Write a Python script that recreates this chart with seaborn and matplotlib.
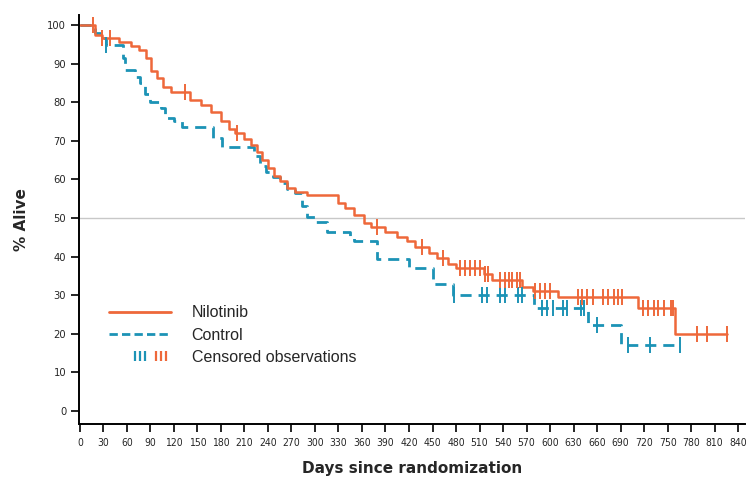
import numpy as np
import pandas as pd
import seaborn as sns
import matplotlib
matplotlib.use('Agg')
import matplotlib.pyplot as plt
from matplotlib.lines import Line2D
from matplotlib.path import Path
from matplotlib.legend_handler import HandlerTuple

ORANGE = '#EE683A'
BLUE = '#1C93B6'

# Kaplan-Meier steps (day the step happens, % alive after it)
nil_days = [0, 20, 28, 50, 65, 75, 84, 91, 98, 106, 116, 140, 155, 168, 180, 190, 198,
            210, 218, 226, 233, 240, 248, 256, 264, 274, 290, 330, 338, 350, 362, 372,
            390, 405, 417, 428, 445, 456, 470, 480, 516, 526, 564, 578, 610, 712, 760, 826]
nil_surv = [100, 97.5, 96.5, 95.5, 94.5, 93.5, 91.5, 88, 86.3, 84, 82.6, 80.5, 79.3, 77.5, 75, 73, 72,
            70.5, 69, 67, 65, 63, 61, 59.5, 57.8, 56.8, 56, 54, 52.6, 50.8, 48.8, 47.7,
            46.5, 45, 44, 42.5, 41, 39.6, 38, 37, 35.5, 34, 32, 31, 29.5, 26.8, 20, 20]
nil_cens = [17, 28, 38, 134, 200, 379, 437, 464, 485, 491, 498, 504, 511, 517, 521,
            536, 543, 547, 552, 558, 562, 581, 587, 594, 600, 635, 641, 647, 655,
            668, 674, 681, 687, 692, 719, 725, 732, 738, 745, 754, 757, 788, 800, 826]

ctl_days = [0, 19, 26, 33, 55, 58, 70, 77, 83, 90, 103, 109, 120, 130, 170, 182, 222,
            230, 238, 246, 255, 264, 275, 283, 290, 300, 316, 345, 350, 379, 420, 450,
            476, 580, 649, 690, 766]
ctl_surv = [100, 98, 96.5, 94.8, 91.4, 88.3, 86.5, 85, 82, 80, 78.5, 76, 75, 73.5, 70.7, 68.4, 66,
            63.5, 62, 60.5, 59, 57.5, 56.5, 53, 50.2, 49, 46.4, 45, 44, 39.5, 37, 33,
            30, 26.7, 22.3, 17, 17]
ctl_cens = [34, 477, 513, 519, 536, 543, 559, 564, 590, 596, 604, 617, 622, 639, 643,
            660, 699, 728, 766]

xticks = list(range(0, 841, 30))
yticks = list(range(0, 101, 10))


def surv_at(days, surv, t):
    idx = np.searchsorted(days, t, side='right') - 1
    return np.asarray(surv)[idx]


nil = pd.DataFrame({'day': nil_days, 'alive': nil_surv})
ctl = pd.DataFrame({'day': ctl_days, 'alive': ctl_surv})
nil_c = pd.DataFrame({'day': nil_cens, 'alive': surv_at(nil_days, nil_surv, nil_cens)})
ctl_c = pd.DataFrame({'day': ctl_cens, 'alive': surv_at(ctl_days, ctl_surv, ctl_cens)})

sns.set_style('ticks')
plt.rcParams['font.family'] = ['Liberation Sans', 'DejaVu Sans']

fig = plt.figure(figsize=(7.49, 4.82), dpi=100)
ax = fig.add_axes([0.105, 0.12, 0.89, 0.849])

ax.axhline(50, color='#c8c8c8', lw=1.0, zorder=0)

sns.lineplot(data=ctl, x='day', y='alive', ax=ax, color=BLUE, lw=2.0,
             drawstyle='steps-post', estimator=None, sort=False)
ax.lines[-1].set_dashes([4, 2.5])
sns.lineplot(data=nil, x='day', y='alive', ax=ax, color=ORANGE, lw=1.8,
             drawstyle='steps-post', estimator=None, sort=False)

ax.plot(ctl_c['day'], ctl_c['alive'], ls='', marker='|', ms=12, mew=1.4, color=BLUE)
ax.plot(nil_c['day'], nil_c['alive'], ls='', marker='|', ms=12, mew=1.4, color=ORANGE)

ax.set_xlim(-1.5, 849)
ax.set_ylim(-3.4, 102.6)
ax.set_xticks(xticks)
ax.set_yticks(yticks)
ax.tick_params(axis='x', labelsize=7.5, length=6, width=1.2, color='black', pad=4)
ax.tick_params(axis='y', labelsize=8, length=6, width=1.2, color='black', pad=3)
for lab in ax.get_xticklabels() + ax.get_yticklabels():
    lab.set_family('DejaVu Sans')
    lab.set_stretch('condensed')
sns.despine(ax=ax)
for s in ('left', 'bottom'):
    ax.spines[s].set_linewidth(1.4)
    ax.spines[s].set_color('black')

ax.set_xlabel('Days since randomization', fontsize=11, fontweight='bold',
              family='DejaVu Sans', labelpad=9)
ax.set_ylabel('% Alive', fontsize=11, fontweight='bold', family='DejaVu Sans', labelpad=13)

# three-bar marker for the censored entry
bars = Path([(-1, -1), (-1, 1), (0, -1), (0, 1), (1, -1), (1, 1)],
            [Path.MOVETO, Path.LINETO, Path.MOVETO, Path.LINETO, Path.MOVETO, Path.LINETO])
h_nil = Line2D([], [], color=ORANGE, lw=2)
h_ctl = Line2D([], [], color=BLUE, lw=2, dashes=[3, 1.5])
h_blank = Line2D([], [], ls='', marker='')
h_cb = Line2D([], [], ls='', marker=bars, ms=7, mew=1.6, color=BLUE)
h_co = Line2D([], [], ls='', marker=bars, ms=7, mew=1.6, color=ORANGE)
ax.legend([h_nil, h_ctl, (h_blank, h_cb, h_co)],
          ['Nilotinib', 'Control', 'Censored observations'],
          handler_map={tuple: HandlerTuple(ndivide=3, pad=0)},
          loc='lower left', bbox_to_anchor=(0.045, 0.145), frameon=False,
          fontsize=11.5, handlelength=3.9, handletextpad=1.3, labelspacing=0.45,
          borderpad=0, borderaxespad=0, numpoints=1)

fig.savefig('out.png', dpi=100)
